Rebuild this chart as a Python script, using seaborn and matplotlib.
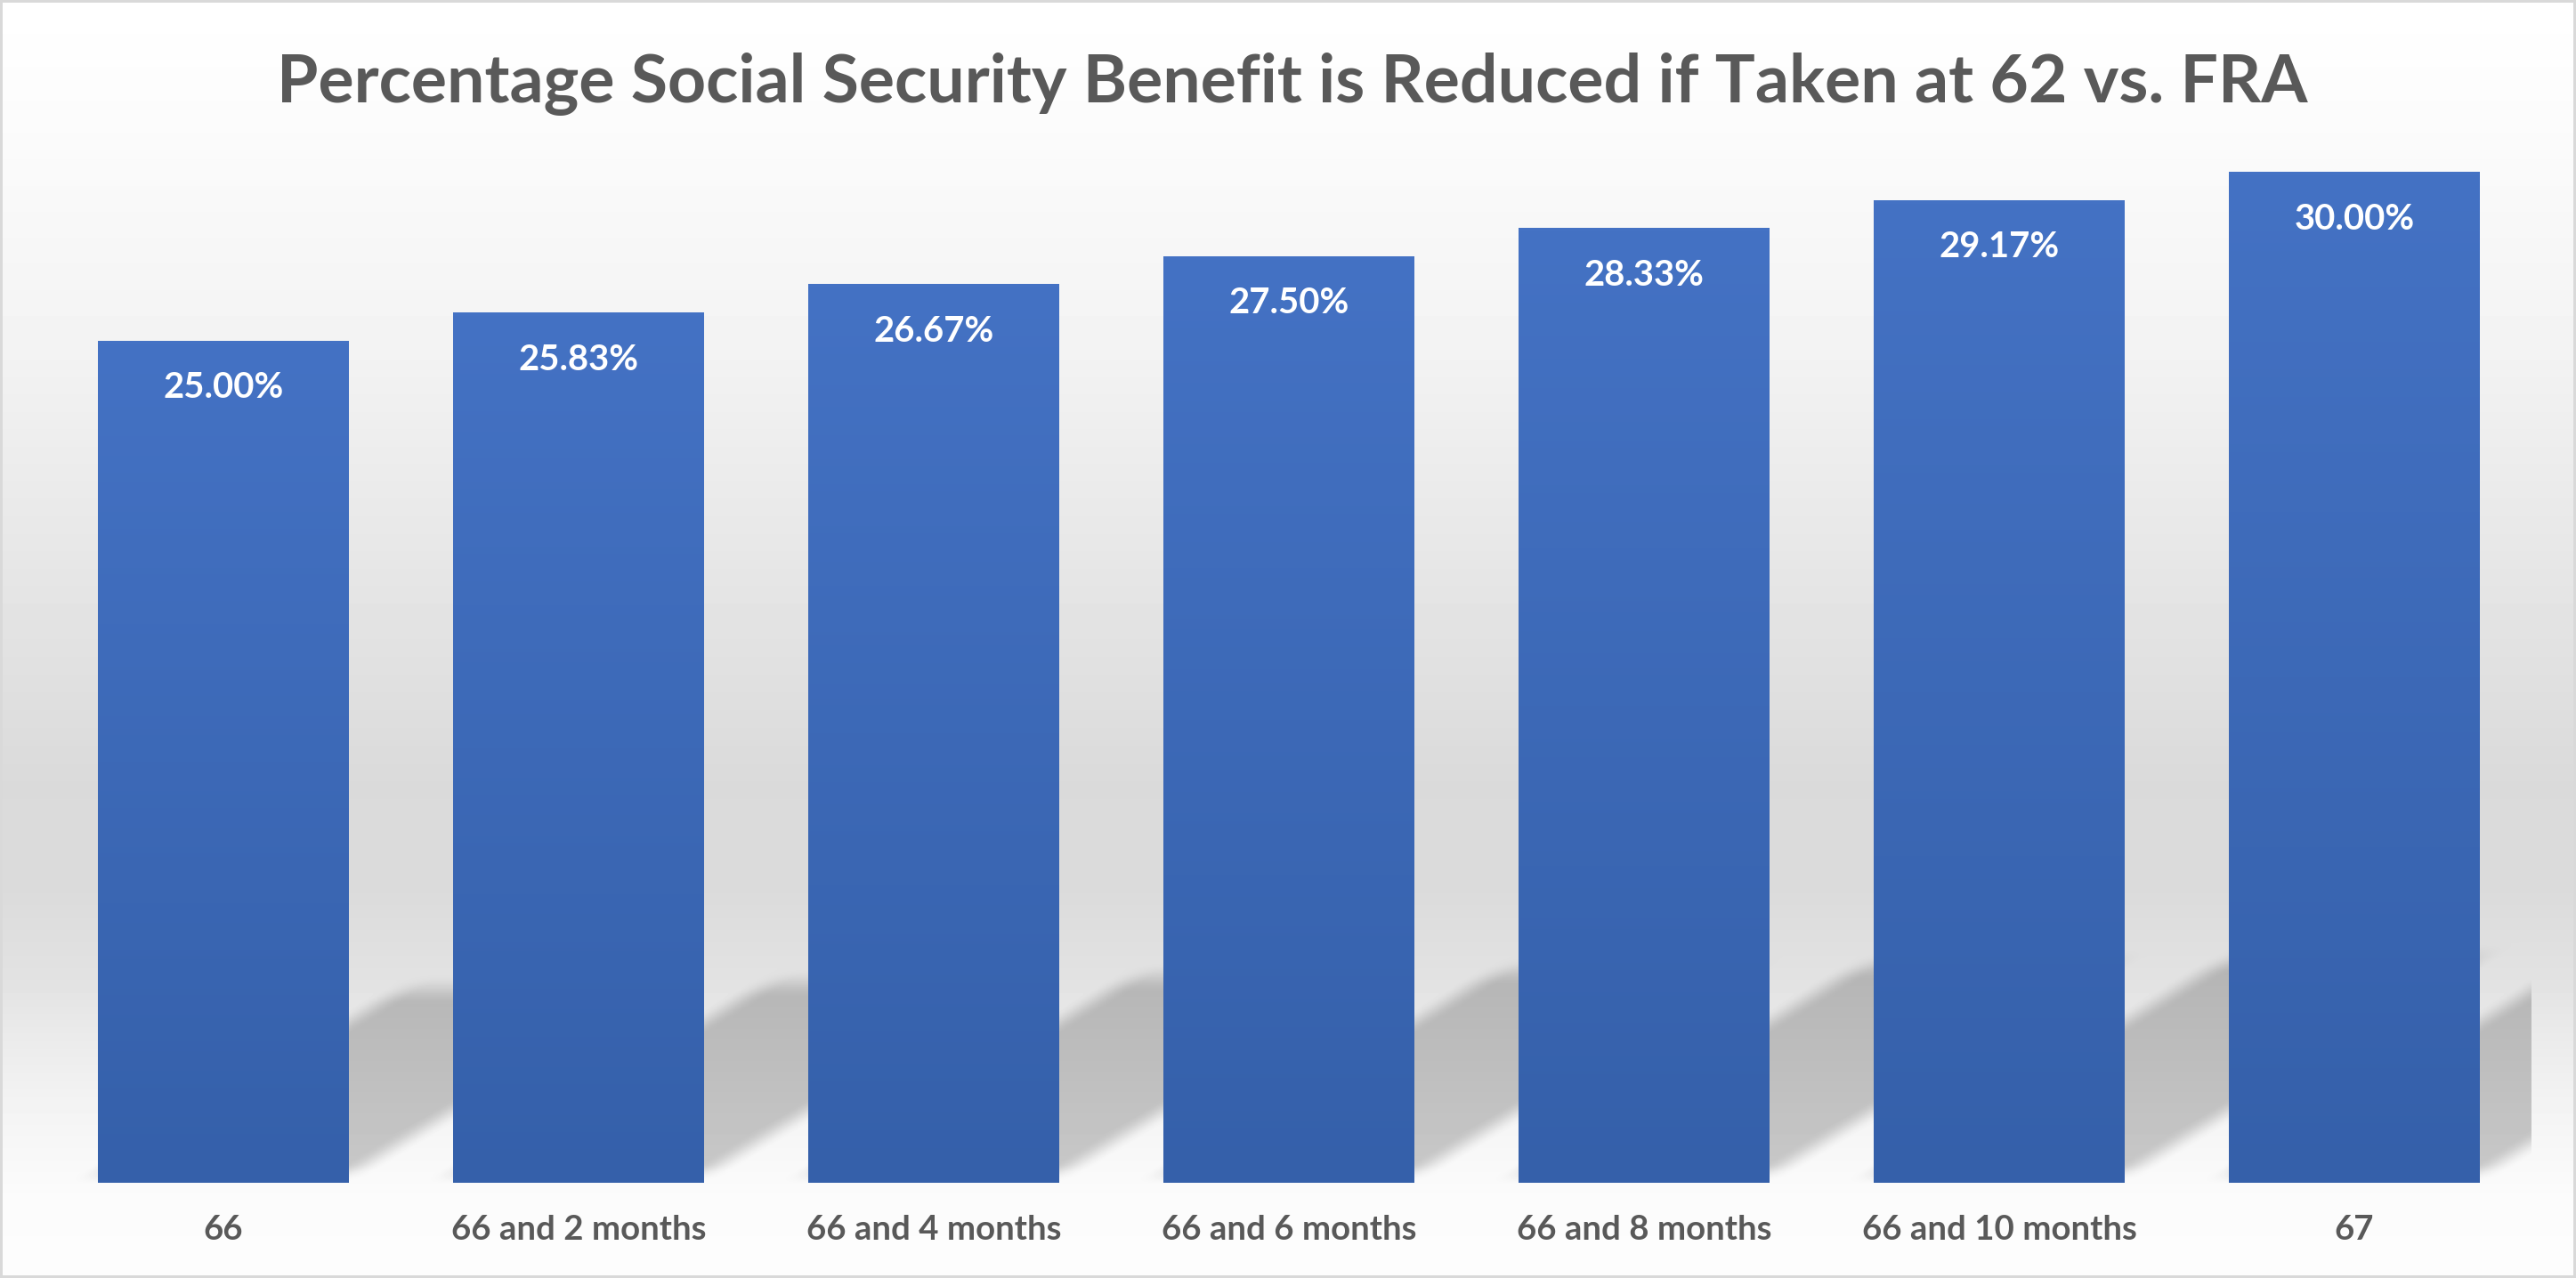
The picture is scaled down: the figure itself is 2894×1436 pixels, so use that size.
import numpy as np
import matplotlib
matplotlib.use("Agg")
import matplotlib.pyplot as plt
import seaborn as sns
from matplotlib.colors import LinearSegmentedColormap

# chart data
categories = ["66", "66 and 2 months", "66 and 4 months", "66 and 6 months",
              "66 and 8 months", "66 and 10 months", "67"]
values = [25.00, 25.83, 26.67, 27.50, 28.33, 29.17, 30.00]
title = "Percentage Social Security Benefit is Reduced if Taken at 62 vs. FRA"

W, H, DPI = 2894, 1436, 100
TEXT_GREY = "#595959"

sns.set_style("white")
plt.rcParams["font.family"] = ["Lato", "DejaVu Sans"]

fig = plt.figure(figsize=(W / DPI, H / DPI), dpi=DPI)
bg_ax = fig.add_axes([0, 0, 1, 1])
bg_ax.axis("off")

base_row, top_row, left_px, right_px = 1329, 100, 51.5, 2844.5
ax = fig.add_axes([left_px / W, (H - base_row) / H,
                   (right_px - left_px) / W, (base_row - top_row) / H])
ax.patch.set_alpha(0)

sns.barplot(x=categories, y=values, color="#4472C4", saturation=1,
            width=0.706, errorbar=None, linewidth=0, ax=ax)
ymax = (base_row - top_row) / 37.84
ax.set_xlim(-0.5, 6.5)
ax.set_ylim(0, ymax)

# background: soft vertical gradient + perspective shadows behind the bars
rows = np.arange(H, dtype=float)[:, None]
cols = np.arange(W, dtype=float)[None, :]
stop_rows = [0, 150, 385, 640, 880, 1000, 1100, 1160, 1250, 1329, 1340, 1436]
stop_vals = [255, 251, 243, 230, 218, 219, 226, 234, 244, 250, 251, 253]
img = np.repeat(np.interp(rows[:, 0], stop_rows, stop_vals)[:, None], W, axis=1)


def smooth(t):
    t = np.clip(t * 0.5 + 0.5, 0, 1)
    return t * t * (3 - 2 * t)


slope, squash = 0.61, 0.22
shade = np.zeros((H, W))
for p in ax.patches:
    x0, yb = ax.transData.transform((p.get_x(), 0))
    x1, yt = ax.transData.transform((p.get_x() + p.get_width(), p.get_height()))
    r_base = H - yb - 10
    hs = squash * (yt - yb)
    v = r_base - rows
    u = cols - v / slope
    m = smooth((u - x0) / 25) * smooth((x1 - u) / 25) * smooth(v / 12) * smooth((hs - v) / 18)
    shade = np.maximum(shade, m)
shade[:, :int(left_px)] = 0
shade[:, int(right_px):] = 0
shade[base_row:, :] = 0
shadow_col = np.interp(rows[:, 0], [1080, 1320], [180, 200])[:, None]
img = img * (1 - shade) + shadow_col * shade

# thin frame round the whole chart
img[:3, :] = 217
img[-3:, :] = 217
img[:, :3] = 217
img[:, -3:] = 217
bg_ax.imshow(img, cmap="gray", vmin=0, vmax=255, aspect="auto",
             interpolation="nearest", extent=[0, W, H, 0])
bg_ax.set_xlim(0, W)
bg_ax.set_ylim(H, 0)

# gradient fill on each bar
bar_cmap = LinearSegmentedColormap.from_list("bar", ["#3560AA", "#4472C4"])
grad = np.linspace(0, 1, 256).reshape(-1, 1)
for p in ax.patches:
    ax.imshow(grad, cmap=bar_cmap, origin="lower", aspect="auto",
              extent=[p.get_x(), p.get_x() + p.get_width(), 0, p.get_height()],
              zorder=p.get_zorder() + 0.1)
ax.set_xlim(-0.5, 6.5)
ax.set_ylim(0, ymax)

# fit font sizes to the measured text widths
renderer = fig.canvas.get_renderer()


def fit_size(text, target_px):
    t = fig.text(0, 0, text, fontsize=100, fontweight="bold")
    w = t.get_window_extent(renderer).width
    t.remove()
    return 100 * target_px / w


title_size = fit_size(title, 2280)
label_size = fit_size("25.00%", 135)
cat_size = fit_size("66 and 10 months", 309)

fig.text(1452 / W, 1 - 115 / H, title, ha="center", va="baseline",
         fontsize=title_size, fontweight="bold", color=TEXT_GREY)

for p, v in zip(ax.patches, values):
    ax.annotate(f"{v:.2f}%", xy=(p.get_x() + p.get_width() / 2, p.get_height()),
                xytext=(0, -64), textcoords="offset pixels", ha="center",
                va="baseline", color="white", fontsize=label_size,
                fontweight="bold", zorder=6)

ax.set_xlabel("")
ax.set_ylabel("")
ax.set_yticks([])
ax.tick_params(axis="x", length=0, pad=64 * 72 / DPI, labelsize=cat_size,
               labelcolor=TEXT_GREY)
for t in ax.get_xticklabels():
    t.set_fontweight("bold")
    t.set_va("baseline")
for s in ax.spines.values():
    s.set_visible(False)
ax.grid(False)

fig.savefig("out.png", dpi=DPI)
